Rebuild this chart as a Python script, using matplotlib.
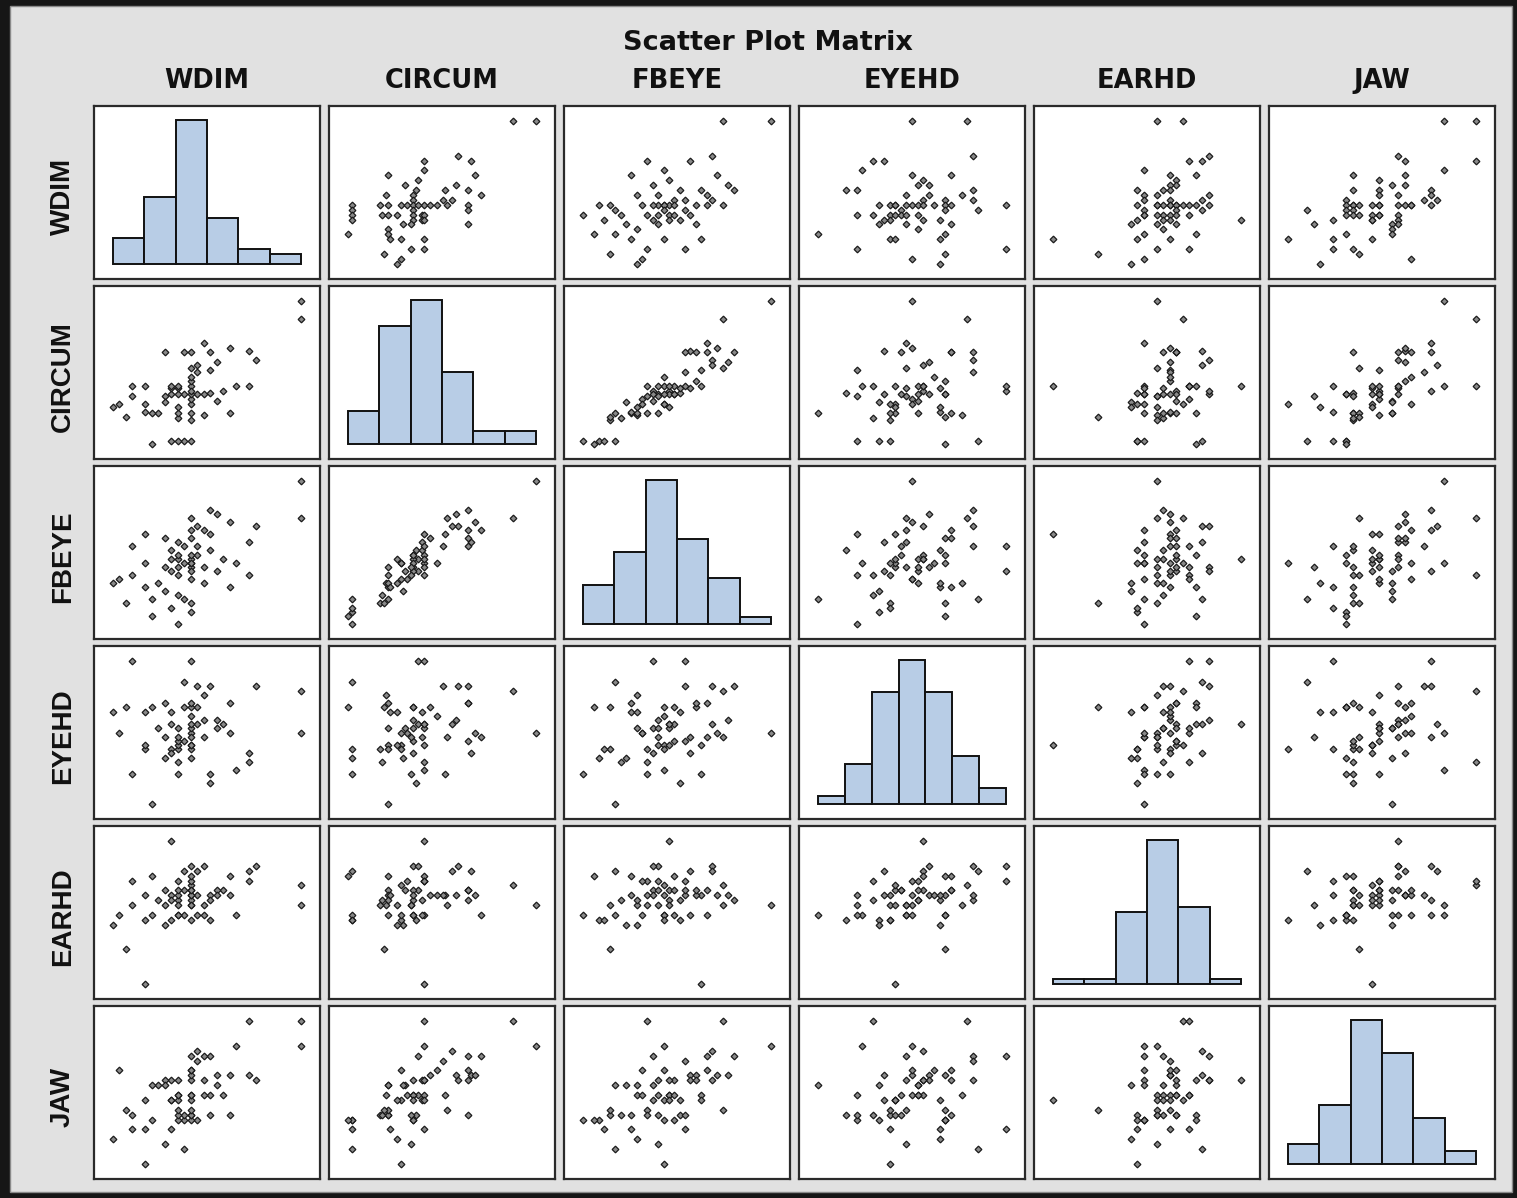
import matplotlib
matplotlib.use("Agg")
import matplotlib.pyplot as plt
import numpy as np

# head measurements, 60 subjects
names = ["WDIM", "CIRCUM", "FBEYE", "EYEHD", "EARHD", "JAW"]

wdim = [16.6, 16.6, 15.9, 15.8, 15.8, 15.6, 15.5, 15.5, 15.4, 15.3,
        15.3, 15.2, 15.2, 15.2, 15.1, 15.1, 15.1, 15.0, 15.0, 15.0,
        14.9, 14.9, 14.9, 14.9, 14.9, 14.9, 14.9, 14.9, 14.9, 14.9,
        14.9, 14.9, 14.8, 14.8, 14.8, 14.7, 14.7, 14.7, 14.7, 14.7,
        14.7, 14.7, 14.6, 14.6, 14.6, 14.6, 14.5, 14.5, 14.5, 14.4,
        14.3, 14.3, 14.2, 14.2, 14.2, 14.0, 14.0, 13.9, 13.8, 13.7]
circum = [61.8, 62.9, 59.2, 57.6, 59.8, 57.6, 55.9, 60.0, 57.3, 56.7,
          59.1, 57.2, 58.6, 59.7, 55.8, 57.1, 60.3, 57.1, 58.5, 58.9,
          54.2, 55.5, 55.9, 56.5, 56.8, 57.1, 57.6, 57.9, 58.2, 59.7,
          57.3, 58.7, 54.2, 57.1, 59.7, 54.2, 55.6, 55.9, 56.3, 57.1,
          57.5, 57.6, 54.2, 57.1, 57.5, 57.6, 57.0, 59.7, 56.6, 55.9,
          54.0, 55.9, 56.5, 57.6, 56.0, 57.0, 57.6, 55.7, 56.5, 56.3]
fbeye = [20.6, 21.5, 20.4, 19.2, 20.0, 19.5, 18.9, 20.5, 19.6, 19.3,
         20.7, 19.8, 20.2, 20.8, 19.0, 19.4, 20.3, 19.7, 19.9, 20.4,
         18.3, 18.5, 19.4, 19.5, 19.1, 19.6, 19.7, 20.1, 19.5, 20.3,
         19.3, 20.6, 18.6, 19.5, 19.9, 18.0, 18.7, 19.2, 19.6, 19.7,
         20.0, 19.4, 18.4, 19.3, 19.8, 19.6, 19.4, 20.1, 18.8, 19.0,
         18.2, 18.6, 19.5, 20.2, 18.9, 19.2, 19.9, 18.5, 19.1, 19.0]
eyehd = [13.2, 12.2, 13.3, 11.5, 11.7, 11.3, 12.9, 12.2, 12.4, 12.3,
         12.5, 11.0, 11.2, 13.3, 13.1, 12.5, 12.1, 12.8, 13.3, 12.4,
         11.6, 11.8, 11.9, 11.9, 12.2, 12.3, 12.4, 12.8, 12.6, 12.9,
         13.9, 12.1, 13.4, 12.8, 12.0, 11.2, 11.5, 11.8, 11.9, 12.0,
         12.1, 12.3, 11.8, 11.7, 12.7, 12.4, 12.1, 12.9, 11.6, 12.3,
         12.8, 10.5, 11.8, 11.9, 12.7, 11.2, 13.9, 12.8, 12.2, 12.7]
earhd = [14.0, 13.6, 14.4, 14.1, 14.3, 13.4, 14.2, 13.8, 13.9, 13.9,
         13.8, 13.3, 13.8, 13.7, 13.6, 14.4, 13.4, 13.4, 13.8, 14.3,
         13.3, 13.6, 13.9, 14.0, 14.1, 13.7, 14.2, 13.8, 13.8, 13.9,
         14.4, 13.6, 14.3, 13.4, 13.9, 13.4, 13.7, 13.8, 13.6, 13.9,
         13.4, 14.1, 13.3, 13.8, 13.7, 14.9, 13.6, 13.9, 13.2, 13.7,
         14.2, 13.4, 13.3, 12.0, 13.8, 13.6, 14.1, 12.7, 13.4, 13.2]
jaw = [12.9, 12.4, 11.7, 12.9, 11.8, 12.4, 11.0, 11.8, 11.4, 11.6,
       11.8, 11.0, 11.4, 12.2, 11.4, 11.7, 12.2, 10.9, 12.1, 12.3,
       10.9, 11.0, 11.0, 11.3, 11.4, 11.4, 11.7, 11.8, 11.9, 11.9,
       12.2, 11.1, 10.3, 10.9, 11.0, 10.9, 11.0, 11.1, 11.3, 11.4,
       11.7, 11.4, 10.7, 11.3, 11.3, 11.7, 10.4, 11.7, 11.6, 11.6,
       10.9, 11.6, 10.0, 11.3, 10.7, 11.0, 10.7, 11.1, 11.9, 10.5]
nbins = [6, 6, 6, 7, 6, 6]

data = [np.array(v) for v in (wdim, circum, fbeye, eyehd, earhd, jaw)]

W, H = 1517, 1198
fig = plt.figure(figsize=(W / 100, H / 100), dpi=100)
fig.patch.set_facecolor("#161616")
# light gray window area
fig.add_artist(plt.Rectangle((10 / W, 6 / H), 1502 / W, 1186 / H,
                             transform=fig.transFigure, facecolor="#e1e1e1",
                             edgecolor="#8a8a8a", lw=1, zorder=0))

x0, y0 = 94, 106     # top-left of first panel in px
pw, ph = 226, 173
dx, dy = 235, 180

fig.text(768 / W, 1 - 43 / H, "Scatter Plot Matrix", ha="center", va="center",
         fontsize=19.5, fontweight="bold", color="#111111")

for i in range(6):
    for j in range(6):
        left = (x0 + j * dx) / W
        bottom = 1 - (y0 + i * dy + ph) / H
        ax = fig.add_axes([left, bottom, pw / W, ph / H])
        ax.set_facecolor("white")
        xv = data[j]
        xr = xv.max() - xv.min()
        ax.set_xlim(xv.min() - 0.1 * xr, xv.max() + 0.1 * xr)
        if i == j:
            edges = np.linspace(xv.min(), xv.max(), nbins[j] + 1)
            counts, _ = np.histogram(xv, bins=edges)
            ax.hist(xv, bins=edges, color="#b8cde6", edgecolor="#111111", lw=1.4)
            m = counts.max()
            ax.set_ylim(-0.105 * m, 1.1 * m)
        else:
            yv = data[i]
            yr = yv.max() - yv.min()
            ax.plot(xv, yv, ls="none", marker="D", ms=3.4, mfc="#8a8a8a",
                    mec="#1a1a1a", mew=0.9)
            ax.set_ylim(yv.min() - 0.106 * yr, yv.max() + 0.106 * yr)
        ax.set_xticks([])
        ax.set_yticks([])
        for s in ax.spines.values():
            s.set_color("#2a2a2a")
            s.set_linewidth(1.6)

for k, name in enumerate(names):
    fig.text((x0 + k * dx + pw / 2) / W, 1 - 81 / H, name, ha="center",
             va="center", fontsize=18.5, fontweight="bold", color="#111111")
    fig.text(63 / W, 1 - (y0 + k * dy + ph / 2 + 4) / H, name, rotation=90,
             ha="center", va="center", fontsize=20, fontweight="bold",
             family=["Liberation Sans", "DejaVu Sans"], color="#111111")

fig.savefig("out.png", dpi=100, facecolor=fig.get_facecolor())
